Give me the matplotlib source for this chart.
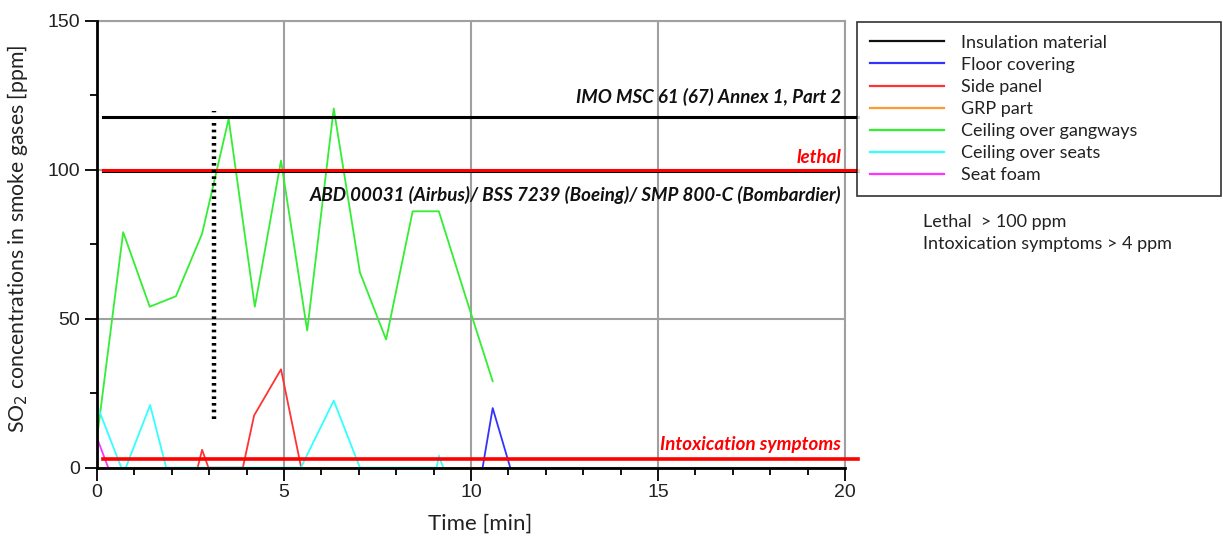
#!/usr/bin/env python3
"""SO2 concentrations in smoke gases over time, with limit lines."""

import matplotlib
matplotlib.use("Agg")
import matplotlib.pyplot as plt
from matplotlib.lines import Line2D

# --- data ----------------------------------------------------------------
series_names = [
    "Insulation material",
    "Floor covering",
    "Side panel",
    "GRP part",
    "Ceiling over gangways",
    "Ceiling over seats",
    "Seat foam",
]
series_colors = ["#111111", "#3333ff", "#ff3333", "#ff9933", "#33ee33", "#33ffff", "#ff33ff"]

insulation_t = [0, 10.55]
insulation_v = [0, 0]

floor_t = [10.31, 10.58, 11.05]
floor_v = [0, 20, 0]

side_t = [2.69, 2.81, 2.98, 3.9, 4.2, 4.92, 5.46]
side_v = [0, 6, 0, 0, 17.5, 33, 0]

grp_t = [0, 10.55]
grp_v = [0, 0]

gangway_t = [0, 0.7, 1.41, 2.11, 2.81, 3.52, 4.22, 4.92, 5.62, 6.33, 7.03, 7.73, 8.44, 9.14, 9.84, 10.58]
gangway_v = [10, 79, 54, 57.5, 78.5, 117, 54, 103, 46, 120.5, 65.5, 43, 86, 86, 58, 29]

seats_t = [0, 0.65, 0.77, 1.42, 1.85, 5.45, 6.33, 7.03, 9.08, 9.14, 9.26]
seats_v = [21, 0, 0, 21, 0, 0, 22.5, 0, 0, 4, 0]

foam_t = [0, 0.3]
foam_v = [10, 0]

# limit lines (ppm) and their labels
imo_limit = 117.6
abd_limit = 99.5
lethal_limit = 100
intox_limit = 2.8
limit_start, limit_end = 0.15, 20.35

imo_text = "IMO MSC 61 (67) Annex 1, Part 2"
abd_text = "ABD 00031 (Airbus)/ BSS 7239 (Boeing)/ SMP 800-C (Bombardier)"
lethal_text = "lethal"
intox_text = "Intoxication symptoms"

marker_t = 3.14
marker_range = (16.3, 119.6)

note_lines = ["Lethal  > 100 ppm", "Intoxication symptoms > 4 ppm"]

TEXT_FONT = ["Lato", "DejaVu Sans"]
TICK_FONT = ["Liberation Sans", "DejaVu Sans"]

# --- figure ----------------------------------------------------------------
W, H = 1223, 536
fig = plt.figure(figsize=(W / 100, H / 100), dpi=100)
ax = fig.add_axes([97 / W, 1 - 467.7 / H, (845 - 97) / W, (467.7 - 20.5) / H])

ax.set_xlim(0, 20)
ax.set_ylim(0, 150)

all_series = [
    (insulation_t, insulation_v),
    (floor_t, floor_v),
    (side_t, side_v),
    (grp_t, grp_v),
    (gangway_t, gangway_v),
    (seats_t, seats_v),
    (foam_t, foam_v),
]
for (t, v), name, color in zip(all_series, series_names, series_colors):
    ax.plot(t, v, color=color, linewidth=1.3, label=name, zorder=3)

# reference limits, drawn a little past the right edge
ax.plot([limit_start, limit_end], [imo_limit] * 2, color="black", linewidth=2.2,
        clip_on=False, zorder=4)
ax.plot([limit_start, limit_end], [abd_limit] * 2, color="black", linewidth=2.2,
        clip_on=False, zorder=4)
ax.plot([limit_start, limit_end], [lethal_limit] * 2, color="#ff0000", linewidth=2.2,
        clip_on=False, zorder=4)
ax.plot([limit_start, limit_end], [intox_limit] * 2, color="#ff0000", linewidth=2.6,
        clip_on=False, zorder=4)
ax.plot([marker_t] * 2, marker_range, color="black", linewidth=3.2,
        linestyle=(0, (0.6, 0.9)), zorder=5)

label_kw = dict(ha="right", va="center", fontsize=13.5, fontweight="bold",
                fontstyle="italic", family=TEXT_FONT, zorder=6)
ax.text(19.9, 124.4, imo_text, color="#111111", **label_kw)
ax.text(19.9, 91.5, abd_text, color="#111111", **label_kw)
ax.text(19.9, 104.2, lethal_text, color="#ff0000", **label_kw)
ax.text(19.9, 7.9, intox_text, color="#ff0000", **label_kw)

# grid and frame
ax.set_xticks([0, 5, 10, 15, 20])
ax.set_yticks([0, 50, 100, 150])
ax.set_xticks(range(0, 21), minor=True)
ax.set_yticks([25, 75, 125], minor=True)
ax.grid(True, which="major", color="#a0a0a0", linewidth=1.5)
ax.set_axisbelow(True)
for side in ("top", "right"):
    ax.spines[side].set_color("#a0a0a0")
    ax.spines[side].set_linewidth(1.5)
for side in ("left", "bottom"):
    ax.spines[side].set_color("black")
    ax.spines[side].set_linewidth(2.0)
    ax.spines[side].set_zorder(10)
ax.tick_params(which="major", direction="out", length=9, width=1.3, color="black",
               labelsize=14, pad=3)
ax.tick_params(which="minor", direction="out", length=5, width=1.3, color="black")
for lab in ax.get_xticklabels() + ax.get_yticklabels():
    lab.set_family(TICK_FONT)
    lab.set_color("#222222")

ax.set_xlabel("Time [min]", fontsize=16, family=TEXT_FONT, color="#222222")
ax.set_ylabel("SO$_2$ concentrations in smoke gases [ppm]", fontsize=15.3,
              family=TEXT_FONT, color="#222222")
ax.xaxis.set_label_coords(0.512, -0.1035)
ax.yaxis.set_label_coords(-0.0896, 0.511)

# legend box at the right
handles = [Line2D([], [], color=c, linewidth=1.6) for c in series_colors]
leg = fig.legend(handles, series_names, loc="upper left",
                 bbox_to_anchor=(857 / W, 1 - 22 / H - 0.01, (1221 - 857) / W, 0.01),
                 mode="expand", frameon=True, fancybox=False, edgecolor="black",
                 borderaxespad=0, handlelength=4.1, handletextpad=0.95,
                 labelspacing=0.34, borderpad=0.7,
                 prop={"family": TEXT_FONT, "size": 13})
leg.get_frame().set_linewidth(1.2)
for txt in leg.get_texts():
    txt.set_color("#222222")

fig.text(923 / W, 1 - 222 / H, note_lines[0], ha="left", va="center",
         fontsize=13, family=TEXT_FONT, color="#222222")
fig.text(923 / W, 1 - 244 / H, note_lines[1], ha="left", va="center",
         fontsize=13, family=TEXT_FONT, color="#222222")

fig.savefig("out.png", dpi=100)
